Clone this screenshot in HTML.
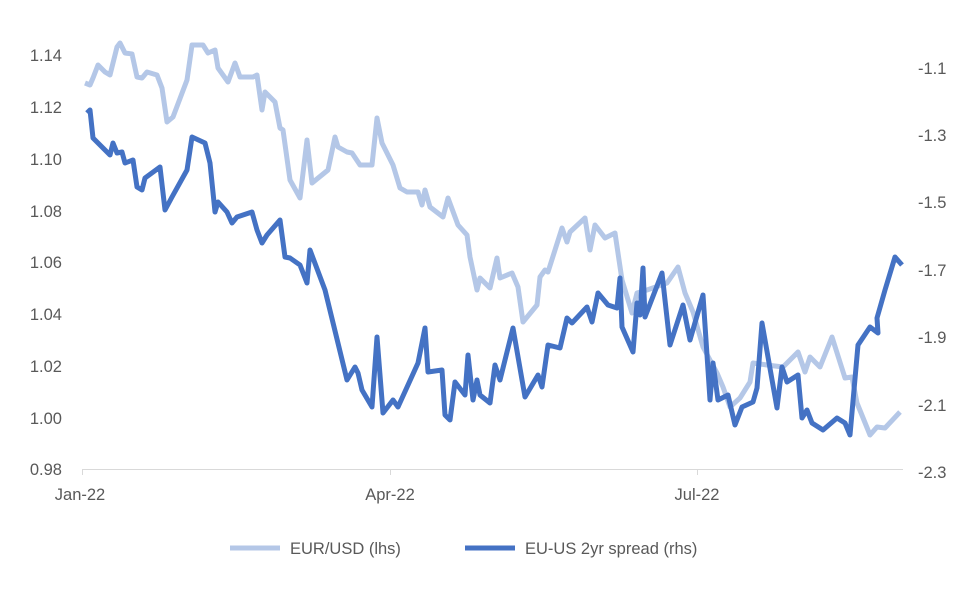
<!DOCTYPE html>
<html><head><meta charset="utf-8"><style>
body{margin:0;background:#fff;}
svg text{font-family:"Liberation Sans",sans-serif;font-size:16.5px;fill:#595959;}
</style></head><body>
<svg width="980" height="588" viewBox="0 0 980 588">
<g text-anchor="end">
<text x="62" y="61">1.14</text><text x="62" y="113">1.12</text><text x="62" y="165">1.10</text><text x="62" y="217">1.08</text><text x="62" y="268">1.06</text><text x="62" y="320">1.04</text><text x="62" y="372">1.02</text><text x="62" y="424">1.00</text><text x="62" y="475">0.98</text>
</g>
<g text-anchor="start">
<text x="918" y="74">-1.1</text><text x="918" y="141">-1.3</text><text x="918" y="208">-1.5</text><text x="918" y="276">-1.7</text><text x="918" y="343">-1.9</text><text x="918" y="411">-2.1</text><text x="918" y="478">-2.3</text>
</g>
<line x1="82" y1="469.5" x2="903" y2="469.5" stroke="#d9d9d9" stroke-width="1"/>
<line x1="82.5" y1="469" x2="82.5" y2="475" stroke="#d9d9d9"/><line x1="390.5" y1="469" x2="390.5" y2="475" stroke="#d9d9d9"/><line x1="697.5" y1="469" x2="697.5" y2="475" stroke="#d9d9d9"/>
<g text-anchor="middle"><text x="80" y="500">Jan-22</text><text x="390" y="500">Apr-22</text><text x="697" y="500">Jul-22</text></g>
<polyline fill="none" stroke="#b4c7e7" stroke-width="5" stroke-linejoin="round" points="85,83 90,85 93,78 98,65 105,72 110,75 117,47 120,43 125,53 132,54 137,77 142,78 147,72 157,75 162,88 167,122 173,117 187,80 192,45 203,45 208,53 215,50 218,68 228,82 235,63 240,77 253,77 257,75 262,110 265,92 275,102 280,128 283,130 290,180 300,198 307,140 312,183 328,170 335,137 338,147 347,152 352,153 360,165 372,165 377,118 382,143 393,165 400,188 407,192 418,192 422,205 425,190 430,207 443,217 448,198 458,225 467,235 470,257 477,290 480,278 490,288 497,258 500,278 512,273 518,287 523,322 537,305 540,277 545,270 548,272 562,228 567,242 570,232 585,218 590,250 595,225 605,238 615,233 622,280 632,313 637,293 647,290 667,283 678,267 685,293 693,312 703,347 717,373 723,387 730,407 740,398 750,382 753,363 767,365 783,367 798,352 805,372 810,357 820,367 832,337 845,378 852,377 857,403 870,435 877,427 885,428 900,412"/>
<polyline fill="none" stroke="#4472c4" stroke-width="5" stroke-linejoin="round" points="87,113 90,110 93,138 103,148 110,155 113,143 117,153 122,152 125,163 133,160 137,187 142,190 145,178 160,167 165,210 172,197 187,170 192,137 205,143 210,163 215,212 218,202 227,212 232,223 237,217 252,212 257,230 262,243 267,235 280,220 285,257 290,258 300,265 307,283 310,250 325,290 347,380 355,367 358,373 362,390 372,407 377,337 383,413 393,400 398,407 418,363 425,328 428,372 442,370 445,415 450,420 455,382 465,395 468,355 473,400 477,380 480,395 490,403 495,365 500,380 513,328 525,397 538,375 542,387 548,345 560,348 567,318 572,323 587,307 592,322 598,293 608,305 617,308 620,278 622,327 633,352 637,303 640,315 643,268 645,317 662,273 670,345 683,305 690,340 703,295 710,400 713,363 718,400 728,395 735,425 742,407 753,402 757,388 762,323 777,408 782,367 787,382 798,375 802,418 807,410 812,423 823,430 837,418 845,423 850,435 858,345 870,327 878,333 877,318 885,290 895,257 902,265"/>
<line x1="230" y1="548" x2="280" y2="548" stroke="#b4c7e7" stroke-width="5"/>
<text x="290" y="554">EUR/USD (lhs)</text>
<line x1="465" y1="548" x2="515" y2="548" stroke="#4472c4" stroke-width="5"/>
<text x="525" y="554">EU-US 2yr spread (rhs)</text>
</svg>
</body></html>
